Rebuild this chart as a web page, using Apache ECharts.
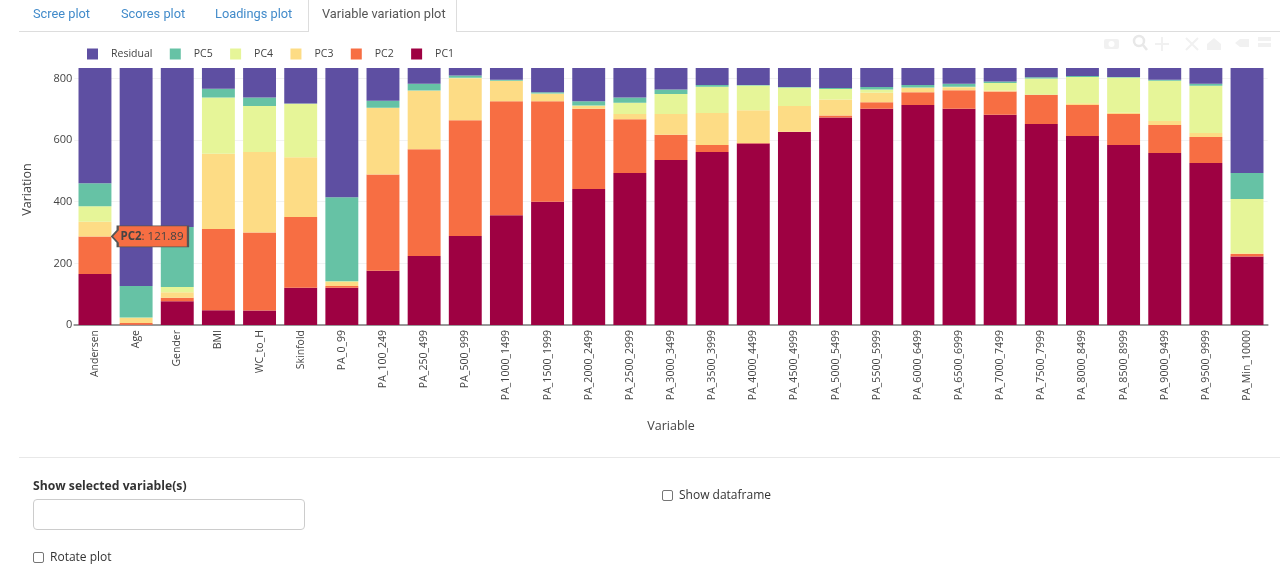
<!DOCTYPE html>
<html><head><meta charset="utf-8">
<script src="https://cdn.jsdelivr.net/npm/echarts@6/dist/echarts.min.js"></script>
<style>
html,body{margin:0;padding:0;background:#fff;width:1280px;height:574px;overflow:hidden;font-family:"Open Sans",sans-serif;}
#chart{position:absolute;left:0;top:0;width:1280px;height:574px;}
.ui{position:absolute;white-space:nowrap;}
.tab{font-family:Roboto,sans-serif;font-size:12.8px;line-height:18px;top:5px;color:#428bca;}
.box{position:absolute;box-sizing:border-box;}
.cb{position:absolute;box-sizing:border-box;width:11px;height:11px;border:1px solid #767676;border-radius:2px;background:#fff;}
.lab{font-size:12px;color:#333;line-height:16px;}
</style></head><body>
<div id="chart"></div>
<div class="box" style="left:19px;top:31px;width:1261px;height:1px;background:#ddd"></div>
<div class="box" style="left:308px;top:-2px;width:149px;height:34px;background:#fff;border:1px solid #ddd;border-bottom:none"></div>
<div class="ui tab" style="left:33px">Scree plot</div>
<div class="ui tab" style="left:121px">Scores plot</div>
<div class="ui tab" style="left:215px">Loadings plot</div>
<div class="ui tab" style="left:322px;color:#555">Variable variation plot</div>
<svg class="box" style="left:1100px;top:32px" width="175" height="22" fill="#f1f1f1" stroke="none">
<rect x="4" y="7" width="15" height="10" rx="2"/><circle cx="11.5" cy="12" r="3" fill="#fff"/>
<circle cx="39" cy="9" r="5" fill="none" stroke="#e8e8e8" stroke-width="2.5"/><path d="M43 13l4 5" stroke="#e8e8e8" stroke-width="2.5"/>
<path d="M62 5v14M55 12h14" stroke="#f1f1f1" stroke-width="2"/>
<path d="M86 6l12 12M98 6L86 18" stroke="#f1f1f1" stroke-width="2"/>
<path d="M107 12l7-6 7 6v6h-14z"/>
<path d="M135 11l5-4h9v8h-9z"/><rect x="158" y="5" width="13" height="4"/><rect x="158" y="11" width="13" height="4"/>
</svg>
<div class="box" style="left:19px;top:457px;width:1261px;height:1px;background:#e8e8e8"></div>
<div class="ui lab" style="left:33px;top:478px;font-weight:700;font-size:12.2px">Show selected variable(s)</div>
<div class="box" style="left:33px;top:499px;width:272px;height:31px;border:1px solid #ccc;border-radius:4px"></div>
<div class="cb" style="left:33px;top:552px"></div>
<div class="ui lab" style="left:50px;top:549px">Rotate plot</div>
<div class="cb" style="left:662px;top:490px"></div>
<div class="ui lab" style="left:679px;top:487px">Show dataframe</div>
<script>
const categories=["Andersen","Age","Gender","BMI","WC_to_H","Skinfold","PA_0_99","PA_100_249","PA_250_499","PA_500_999","PA_1000_1499","PA_1500_1999","PA_2000_2499","PA_2500_2999","PA_3000_3499","PA_3500_3999","PA_4000_4499","PA_4500_4999","PA_5000_5499","PA_5500_5999","PA_6000_6499","PA_6500_6999","PA_7000_7499","PA_7500_7999","PA_8000_8499","PA_8500_8999","PA_9000_9499","PA_9500_9999","PA_Min_10000"];
const pc1=[165.6,1,77,47.6,47,121,121,176,224,289,356,400,441.6,493.5,535.7,561.7,588.6,626.6,673,702,714,702,682,652.6,613.6,584,558,526,222];
const pc2=[121.89,5.5,11.7,264.1,252.8,229.6,5.6,312,346,375.6,370,326,260.4,174.5,81.3,22.3,2.4,0.9,7,21,41.5,60,75.6,94.4,100.4,101,91,84,8.5];
const pc3=[47.3,16.2,17.3,244.3,261.9,193.4,13,216.5,190,136,66,24,9,17,68,104,106,83.5,51.5,31,14,9.7,3.2,0.5,6,4,13,13,2.3];
const pc4=[50.9,1.3,17,182,149.3,174,2.4,0.5,1,1.4,1,1,1,36,65,85,80,59.5,34.5,10,1.5,1.3,24.9,52.5,85,114,131,153,176.2];
const pc5=[74.3,102.6,195,29,27,1,272.5,23,21.5,8,3,4.5,14,17,14,6,2,2.2,3.5,8.7,8,9.5,4.3,4,3,2,3,6.5,84.5];
const residual=[374,707.4,516,67,96,115,419.5,106,51.5,24,38,78.5,108,96,70,55,55,61.3,64.5,61.3,55,51.5,44,30,26,29,38,51.5,340.5];
const seriesNames=["PC1","PC2","PC3","PC4","PC5","Residual"];
const seriesValues=[pc1,pc2,pc3,pc4,pc5,residual];
const colors=["#9e0142","#f76e43","#fddc85","#e6f598","#66c2a5","#5e4fa2"];
const calloutSeries="PC2", calloutIndex=0;
const font='"Open Sans",sans-serif';
const chart=echarts.init(document.getElementById('chart'),null,{renderer:'canvas'});
chart.setOption({
 animation:false,
 grid:{left:74.4,top:68,width:1193.2,height:257,containLabel:false},
 legend:{left:87,top:48.5,padding:0,itemWidth:11,itemHeight:11,itemGap:17.4,icon:'rect',selectedMode:false,
   data:seriesNames.slice().reverse(),
   textStyle:{fontFamily:font,fontSize:10.5,color:'#444',padding:[0,0,0,8]}},
 xAxis:{type:'category',data:categories,name:'Variable',nameLocation:'middle',nameGap:95,
   nameTextStyle:{fontFamily:font,fontSize:12.5,color:'#444'},
   axisLine:{lineStyle:{color:'#999',width:2}},axisTick:{show:false},
   axisLabel:{rotate:90,interval:0,margin:5,fontFamily:font,fontSize:10.5,color:'#444'}},
 yAxis:{type:'value',min:0,max:834,interval:200,name:'Variation',nameLocation:'middle',nameGap:40,
   nameTextStyle:{fontFamily:font,fontSize:12.5,color:'#444',padding:[0,0,0,14]},
   axisLine:{show:false},axisTick:{show:false},
   axisLabel:{showMaxLabel:false,margin:2,fontFamily:font,fontSize:11,color:'#444'},
   splitLine:{showMaxLine:false,showMinLine:false,lineStyle:{color:'#f2f2f2'}}},
 series:seriesNames.map((n,i)=>({
   name:n,type:'bar',stack:'total',barWidth:'80%',data:seriesValues[i],
   itemStyle:{color:colors[i]},
   markPoint:n===calloutSeries?{
     symbol:'path://M0 10L6 4V0H80V20H6V16Z',symbolSize:[76,21],symbolKeepAspect:false,
     symbolOffset:[55,0],silent:true,
     itemStyle:{color:colors[i],borderColor:'#555',borderWidth:1.2},
     label:{show:true,position:'inside',offset:[2,0],
       formatter:'{b|'+n+'}: '+pc2[calloutIndex].toFixed(2),
       fontFamily:font,fontSize:11.5,color:'#444',
       rich:{b:{fontFamily:font,fontSize:11.5,color:'#444',fontWeight:700}}},
     data:[{coord:[categories[calloutIndex],pc1[calloutIndex]+pc2[calloutIndex]]}]
   }:undefined
 }))
});
</script></body></html>
